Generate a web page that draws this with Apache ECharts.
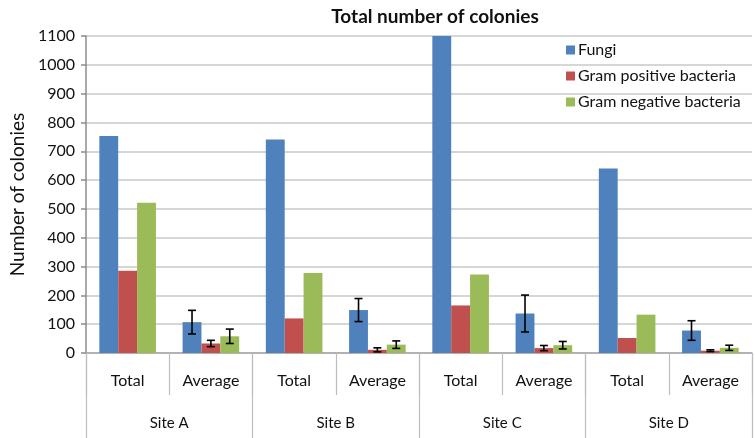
<!DOCTYPE html>
<html>
<head>
<meta charset="utf-8">
<script src="https://cdn.jsdelivr.net/npm/echarts@6/dist/echarts.min.js"></script>
<style>
  html, body { margin: 0; padding: 0; background: #fff; }
  #chart { width: 755px; height: 438px; }
</style>
</head>
<body>
<div id="chart"></div>
<script>
// Colony counts per site: total counts and per-sample averages with error bars
var categories = ['Total', 'Average', 'Total', 'Average', 'Total', 'Average', 'Total', 'Average'];
var sites = ['Site A', 'Site B', 'Site C', 'Site D'];
var seriesNames = ['Fungi', 'Gram positive bacteria', 'Gram negative bacteria'];

var fungi = [753, 107, 741, 149, 1100, 137, 640, 78];
var gramPositive = [285, 33, 120, 11, 165, 17, 52, 8];
var gramNegative = [521, 58, 278, 29, 272, 27, 133, 18];

// Error bar half-lengths (averages only)
var fungiErr = [null, 41, null, 40, null, 64, null, 34];
var gramPositiveErr = [null, 11, null, 7, null, 9, null, 3];
var gramNegativeErr = [null, 25, null, 13, null, 13, null, 9];

var yTicks = { min: 0, max: 1100, interval: 100 };

var colors = ['#4F81BD', '#C0504D', '#9BBB59'];
var values = [fungi, gramPositive, gramNegative];
var errors = [fungiErr, gramPositiveErr, gramNegativeErr];

var CATEGORY_GAP = 0.32;
var FONT = 'Lato, "Open Sans", sans-serif';

function errorData(vals, errs) {
  var out = [];
  for (var i = 0; i < vals.length; i++) {
    if (errs[i] != null) out.push([i, vals[i], errs[i]]);
  }
  return out;
}

function makeErrorRenderer(slot) {
  return function (params, api) {
    var idx = api.value(0);
    var v = api.value(1);
    var e = api.value(2);
    var band = api.size([1, 0])[0];
    var bw = band * (1 - CATEGORY_GAP) / 3;
    var center = api.coord([idx, v]);
    var x = center[0] + (slot - 1) * bw;
    var top = api.coord([idx, v + e])[1];
    var bot = api.coord([idx, Math.max(0, v - e)])[1];
    var cap = 4;
    var style = { stroke: '#000', lineWidth: 1.6 };
    return {
      type: 'group',
      children: [
        { type: 'line', shape: { x1: x, y1: top, x2: x, y2: bot }, style: style },
        { type: 'line', shape: { x1: x - cap, y1: top, x2: x + cap, y2: top }, style: style },
        { type: 'line', shape: { x1: x - cap, y1: bot, x2: x + cap, y2: bot }, style: style }
      ]
    };
  };
}

var series = [];
for (var s = 0; s < 3; s++) {
  series.push({
    name: seriesNames[s],
    type: 'bar',
    xAxisIndex: 0,
    data: values[s],
    barGap: '0%',
    barCategoryGap: (CATEGORY_GAP * 100) + '%',
    itemStyle: { color: colors[s] }
  });
}
for (var s2 = 0; s2 < 3; s2++) {
  series.push({
    type: 'custom',
    xAxisIndex: 0,
    renderItem: makeErrorRenderer(s2),
    data: errorData(values[s2], errors[s2]),
    z: 5,
    silent: true
  });
}

var chart = echarts.init(document.getElementById('chart'), null, { renderer: 'canvas' });
chart.setOption({
  animation: false,
  backgroundColor: '#fff',
  textStyle: { fontFamily: FONT },
  title: {
    text: 'Total number of colonies',
    left: 430,
    textAlign: 'center',
    top: 2,
    textStyle: { fontFamily: FONT, fontSize: 19, fontWeight: 'bold', color: '#111' }
  },
  legend: {
    orient: 'vertical',
    left: 561,
    top: 37,
    itemWidth: 9,
    itemHeight: 9,
    itemGap: 10,
    icon: 'rect',
    data: seriesNames,
    textStyle: { fontFamily: FONT, fontSize: 16, color: '#111', padding: [0, 0, 0, -2] }
  },
  grid: { left: 80, right: 3, top: 36, bottom: 85, containLabel: false },
  xAxis: [
    {
      type: 'category',
      data: categories,
      position: 'bottom',
      axisLine: { show: true, lineStyle: { color: '#a6a6a6', width: 1.5 } },
      axisTick: { show: true, length: 42, alignWithLabel: false, lineStyle: { color: '#bdbdbd', width: 1.2 } },
      axisLabel: { margin: 20, fontFamily: FONT, fontSize: 16, color: '#111', interval: 0 }
    },
    {
      type: 'category',
      data: sites,
      position: 'bottom',
      axisLine: { show: false },
      axisTick: { show: true, length: 86, alignWithLabel: false, lineStyle: { color: '#bdbdbd', width: 1.2 } },
      axisLabel: { margin: 63, fontFamily: FONT, fontSize: 15, color: '#111', interval: 0 }
    }
  ],
  yAxis: {
    type: 'value',
    min: yTicks.min,
    max: yTicks.max,
    interval: yTicks.interval,
    name: 'Number of colonies',
    nameLocation: 'middle',
    nameGap: 57,
    nameTextStyle: { fontFamily: FONT, fontSize: 19, color: '#111' },
    axisLine: { show: true, lineStyle: { color: '#8c8c8c', width: 1.5 } },
    axisTick: { show: true, length: 5, lineStyle: { color: '#8c8c8c', width: 1.5 } },
    axisLabel: {
      margin: 11, fontFamily: FONT, fontSize: 16, color: '#111',
      formatter: function (v) { return String(v); }
    },
    splitLine: { show: true, lineStyle: { color: '#c8c8c8', width: 1.5 } }
  },
  series: series
});
</script>
</body>
</html>
